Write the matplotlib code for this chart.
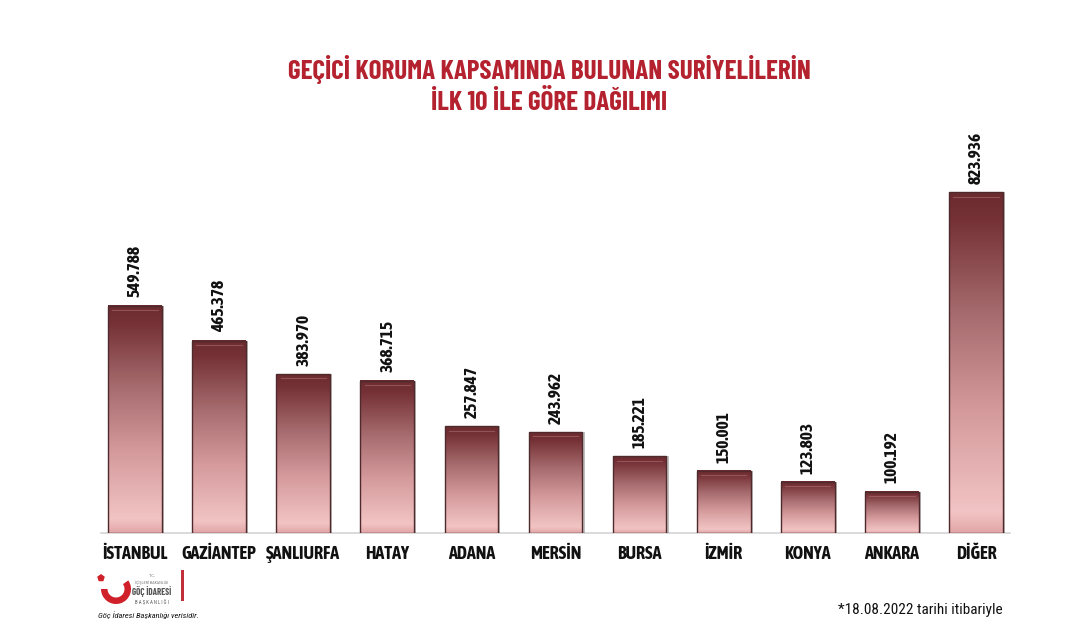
import matplotlib.pyplot as plt
import numpy as np
from matplotlib.colors import LinearSegmentedColormap
from matplotlib.patches import Rectangle, Wedge, RegularPolygon

# data
iller = ['İSTANBUL', 'GAZİANTEP', 'ŞANLIURFA', 'HATAY', 'ADANA', 'MERSİN',
         'BURSA', 'İZMİR', 'KONYA', 'ANKARA', 'DİĞER']
degerler = [549788, 465378, 383970, 368715, 257847, 243962,
            185221, 150001, 123803, 100192, 823936]
etiketler = ['549.788', '465.378', '383.970', '368.715', '257.847', '243.962',
             '185.221', '150.001', '123.803', '100.192', '823.936']

baslik1 = 'GEÇİCİ KORUMA KAPSAMINDA BULUNAN SURİYELİLERİN'
baslik2 = 'İLK 10 İLE GÖRE DAĞILIMI'
dipnot = '*18.08.2022 tarihi itibariyle'

baslik_font = ['Barlow Condensed', 'Roboto Condensed', 'DejaVu Sans']
etiket_font = ['Asap Condensed', 'Open Sans', 'DejaVu Sans']
dar_font = ['Roboto Condensed', 'Archivo Narrow', 'DejaVu Sans']

W, H = 1074, 640
fig = plt.figure(figsize=(W / 100, H / 100), dpi=100)
ax = fig.add_axes([93 / W, (H - 533) / H, 925 / W, (533 - 161) / H])
ax.set_xlim(-0.5, 10.5)
ax.set_ylim(0, 900000)
ax.axis('off')

# bar gradient: dark maroon at top, pink at bottom
cmap = LinearSegmentedColormap.from_list('bar', [
    (0.0, '#e2a6a7'), (0.06, '#f2c4c4'), (0.35, '#d59b9d'),
    (0.65, '#a56a6d'), (0.92, '#753136'), (1.0, '#6c2b2f')])
grad = np.linspace(0, 1, 256).reshape(-1, 1)

bw = 0.64
for i, v in enumerate(degerler):
    x0, x1 = i - bw / 2, i + bw / 2
    # shadow to the right
    ax.add_patch(Rectangle((x0 + 0.025, 0), bw, v, facecolor='#3a2a2a',
                           alpha=0.3, edgecolor='none', zorder=1))
    ax.imshow(grad, cmap=cmap, extent=(x0, x1, 0, v), origin='lower',
              aspect='auto', zorder=2, interpolation='bicubic')
    ax.add_patch(Rectangle((x0, 0), bw, v, facecolor='none',
                           edgecolor='#4e2a2c', lw=1.0, zorder=3))
    # bevel highlight near the top
    ax.plot([x0 + 0.05, x1 - 0.05], [v - 10000, v - 10000], color='#b57a7d',
            lw=0.8, alpha=0.5, zorder=4)
    ax.text(i, v + 20000, etiketler[i], rotation=90, ha='center', va='bottom',
            fontsize=12.5, fontweight='bold', family=etiket_font, color='#111111')
    ax.text(i, -51000, iller[i], ha='center', va='center', fontsize=13,
            fontweight='bold', family=etiket_font, color='#111111', clip_on=False)

ax.plot([-0.4, 10.4], [0, 0], color='#d4d4d4', lw=1.2, zorder=0, clip_on=False)

fig.text(549 / W, 1 - 70 / H, baslik1, ha='center', va='center', fontsize=19.5,
         fontweight='bold', family=baslik_font, color='#b5222f')
fig.text(549 / W, 1 - 103 / H, baslik2, ha='center', va='center', fontsize=19.5,
         fontweight='bold', family=baslik_font, color='#b5222f')

fig.text(1003 / W, 1 - 610 / H, dipnot, ha='right', va='center', fontsize=11,
         family=dar_font, color='#111111')

# logo (1 unit = 1 pixel)
lax = fig.add_axes([90 / W, (H - 625) / H, 110 / W, 55 / H])
lax.set_xlim(0, 110)
lax.set_ylim(0, 55)
lax.axis('off')
lax.add_patch(Wedge((26, 36), 15, 180, 35, width=6.5, facecolor='#d0202a'))
lax.add_patch(RegularPolygon((11, 47), 5, radius=4, facecolor='#d0202a'))
lax.text(62, 49, 'T.C.', fontsize=3, ha='center', va='center', color='#777777')
lax.text(62, 42, 'İÇİŞLERİ BAKANLIĞI', fontsize=3, ha='center', va='center',
         family=dar_font, color='#777777')
lax.text(62, 33, 'GÖÇ İDARESİ', fontsize=6.5, fontweight='bold', ha='center',
         va='center', family=baslik_font, color='#555555')
lax.text(62, 23, 'B A Ş K A N L I Ğ I', fontsize=3.5, ha='center', va='center',
         family=dar_font, color='#555555')
lax.add_patch(Rectangle((91, 24), 3, 31, facecolor='#c0303a'))
lax.text(8, 10, 'Göç İdaresi Başkanlığı verisidir.', fontsize=6, ha='left',
         va='center', style='italic', family=dar_font, color='#111111')

fig.savefig('out.png', dpi=100)
